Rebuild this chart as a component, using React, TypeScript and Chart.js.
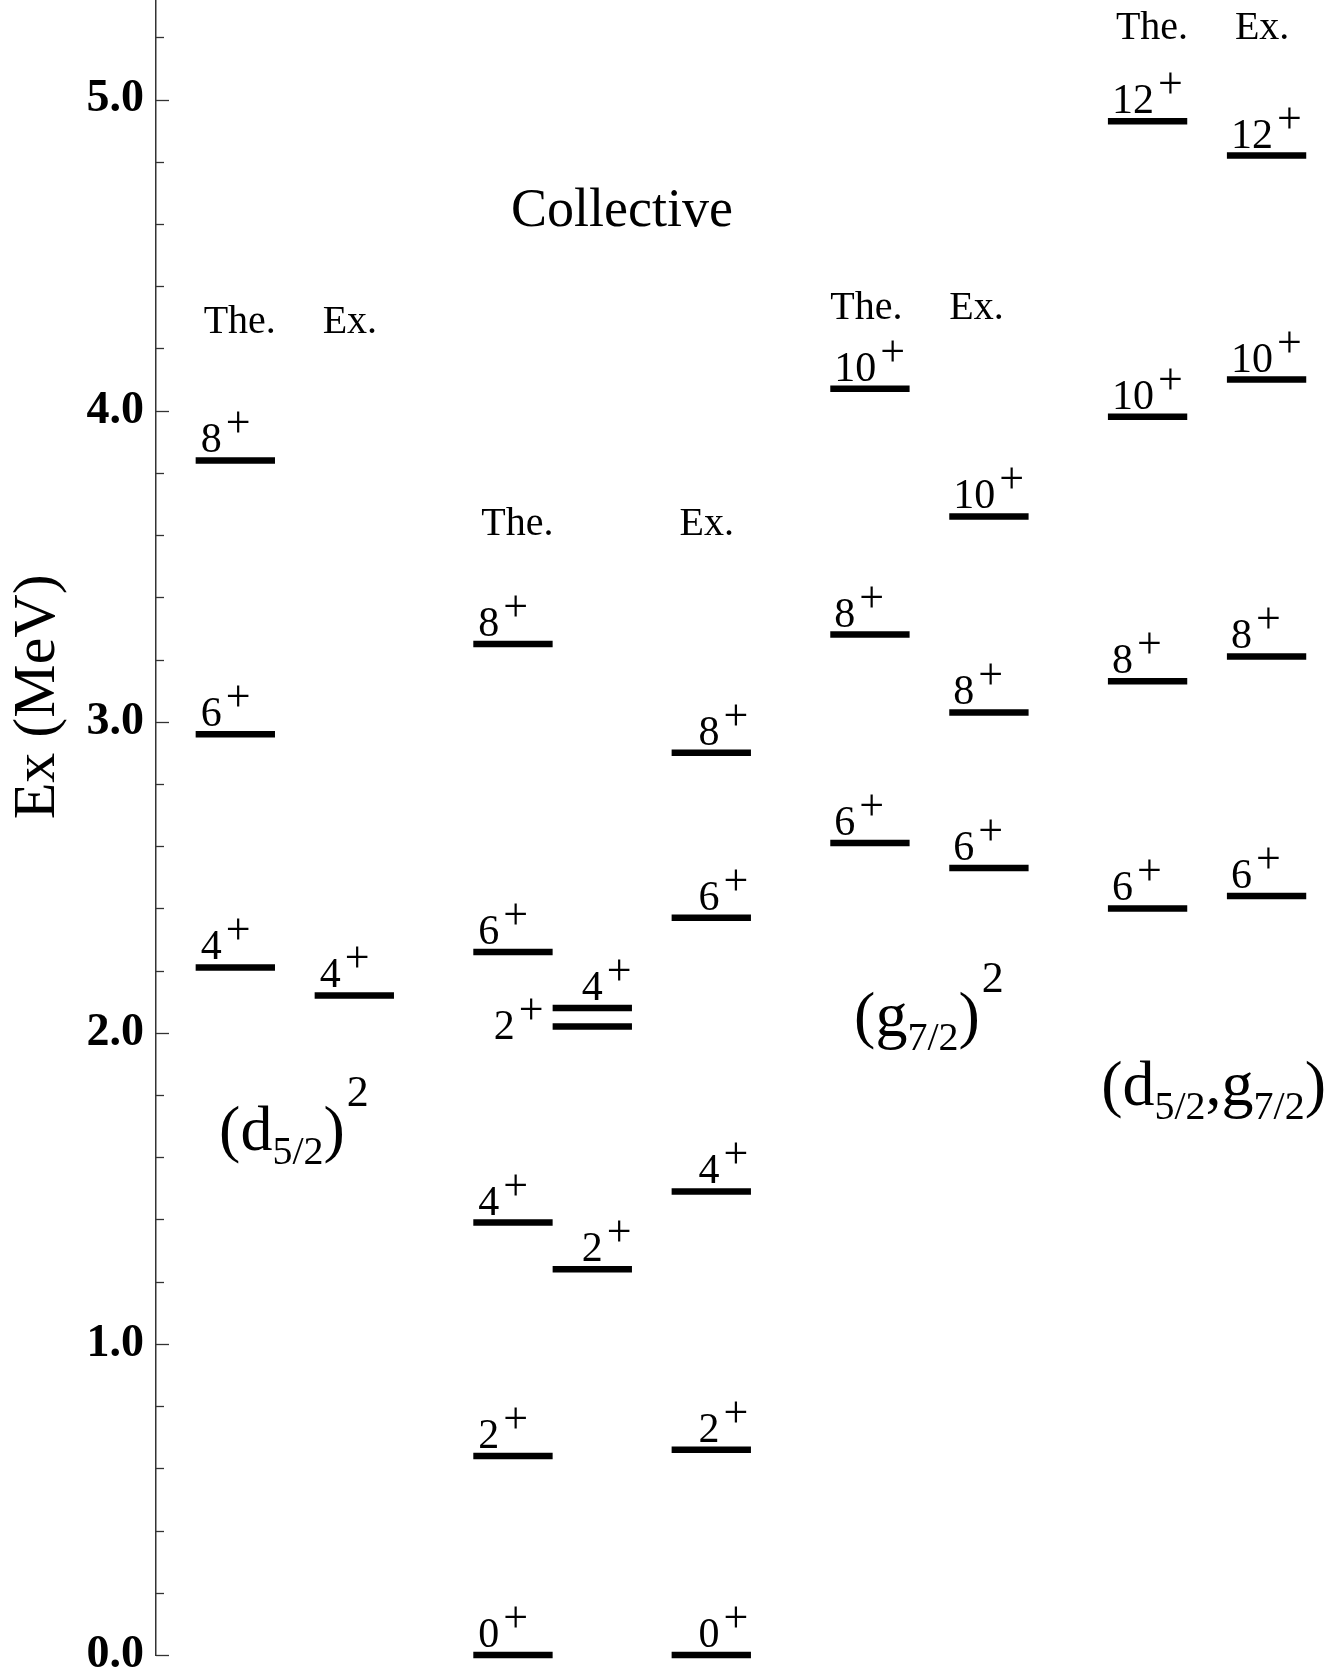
import { useEffect, useRef } from "react";
import { Chart, registerables } from "chart.js";

Chart.register(...registerables);

const SERIF = '"Liberation Serif", "Times New Roman", "DejaVu Serif", serif';

// ---- Level energies (MeV) and spins ----
const d52TheoryEnergy = [2.21, 2.96, 3.84];
const d52TheorySpin = ["4", "6", "8"];
const d52ExpEnergy = [2.12];
const d52ExpSpin = ["4"];

const collTheoryEnergy = [0.0, 0.64, 1.39, 2.26, 3.25];
const collTheorySpin = ["0", "2", "4", "6", "8"];
const collBandEnergy = [1.24, 2.02, 2.08];
const collBandSpin = ["2", "2", "4"];
const collExpEnergy = [0.0, 0.66, 1.49, 2.37, 2.9];
const collExpSpin = ["0", "2", "4", "6", "8"];

const g72TheoryEnergy = [2.61, 3.28, 4.07];
const g72TheorySpin = ["6", "8", "10"];
const g72ExpEnergy = [2.53, 3.03, 3.66];
const g72ExpSpin = ["6", "8", "10"];

const dgTheoryEnergy = [2.4, 3.13, 3.98, 4.93];
const dgTheorySpin = ["6", "8", "10", "12"];
const dgExpEnergy = [2.44, 3.21, 4.1, 4.82];
const dgExpSpin = ["6", "8", "10", "12"];

// y-axis
const yMin = 0;
const yMax = 5.32;
const yMajorStep = 1;
const yMinorStep = 0.2;

// ---- layout (x in column units, label offsets in px) ----
const LEVEL_WIDTH = 2;
type Col = { x: number; energies: number[]; spins: string[]; dx: number; side?: string[] };
const columns: Col[] = [
  { x: 1, energies: d52TheoryEnergy, spins: d52TheorySpin, dx: 5 },
  { x: 4, energies: d52ExpEnergy, spins: d52ExpSpin, dx: 5 },
  { x: 8, energies: collTheoryEnergy, spins: collTheorySpin, dx: 5 },
  { x: 10, energies: collBandEnergy, spins: collBandSpin, dx: 29, side: ["above", "left", "above"] },
  { x: 13, energies: collExpEnergy, spins: collExpSpin, dx: 27 },
  { x: 17, energies: g72TheoryEnergy, spins: g72TheorySpin, dx: 4 },
  { x: 20, energies: g72ExpEnergy, spins: g72ExpSpin, dx: 4 },
  { x: 24, energies: dgTheoryEnergy, spins: dgTheorySpin, dx: 4 },
  { x: 27, energies: dgExpEnergy, spins: dgExpSpin, dx: 4 },
];

const headers = [
  { text: "The.", x: 1, e: 4.248, dx: 8 },
  { text: "Ex.", x: 4, e: 4.248, dx: 8 },
  { text: "The.", x: 8, e: 3.599, dx: 8 },
  { text: "Ex.", x: 13, e: 3.599, dx: 8 },
  { text: "The.", x: 17, e: 4.296, dx: 0 },
  { text: "Ex.", x: 20, e: 4.296, dx: 0 },
  { text: "The.", x: 24, e: 5.196, dx: 8 },
  { text: "Ex.", x: 27, e: 5.196, dx: 8 },
];

type Part = { t: string; k: "main" | "sub" | "sup" };
const groupLabels: { x: number; e: number; parts: Part[] }[] = [
  {
    x: 1.59,
    e: 1.623,
    parts: [
      { t: "(d", k: "main" },
      { t: "5/2", k: "sub" },
      { t: ")", k: "main" },
      { t: "2", k: "sup" },
    ],
  },
  {
    x: 17.6,
    e: 1.989,
    parts: [
      { t: "(g", k: "main" },
      { t: "7/2", k: "sub" },
      { t: ")", k: "main" },
      { t: "2", k: "sup" },
    ],
  },
  {
    x: 23.83,
    e: 1.768,
    parts: [
      { t: "(d", k: "main" },
      { t: "5/2", k: "sub" },
      { t: ",g", k: "main" },
      { t: "7/2", k: "sub" },
      { t: ")", k: "main" },
    ],
  },
];

const overlayPlugin = {
  id: "levelOverlay",
  afterDatasetsDraw(chart: any) {
    const { ctx, scales, chartArea } = chart;
    const x = scales.x;
    const y = scales.y;
    ctx.save();
    ctx.fillStyle = "#000";
    ctx.strokeStyle = "#333";
    ctx.textBaseline = "alphabetic";
    ctx.textAlign = "left";

    // inward ticks on the y axis
    ctx.lineWidth = 1.3;
    const left = chartArea.left;
    for (let i = 0; i * yMinorStep <= yMax + 1e-9; i++) {
      const v = i * yMinorStep;
      const major = Math.abs(v / yMajorStep - Math.round(v / yMajorStep)) < 1e-6;
      const py = Math.round(y.getPixelForValue(v)) + 0.5;
      ctx.beginPath();
      ctx.moveTo(left, py);
      ctx.lineTo(left + (major ? 13 : 8), py);
      ctx.stroke();
    }

    // spin labels
    const GAP = 4;
    for (const col of columns) {
      col.energies.forEach((e, i) => {
        const spin = col.spins[i];
        const xl = x.getPixelForValue(col.x);
        const py = y.getPixelForValue(e);
        ctx.font = `42px ${SERIF}`;
        const w = ctx.measureText(spin).width;
        ctx.font = `44px ${SERIF}`;
        const wp = ctx.measureText("+").width;
        let tx: number;
        let by: number;
        if (col.side && col.side[i] === "left") {
          tx = xl - 9 - (w + GAP + wp);
          by = py + 12;
        } else {
          tx = xl + col.dx;
          by = py - 8;
        }
        ctx.font = `42px ${SERIF}`;
        ctx.fillText(spin, tx, by);
        ctx.font = `44px ${SERIF}`;
        ctx.fillText("+", tx + w + GAP, by - 15);
      });
    }

    // column headers
    ctx.font = `40px ${SERIF}`;
    for (const h of headers) {
      ctx.fillText(h.text, x.getPixelForValue(h.x) + h.dx, y.getPixelForValue(h.e));
    }

    // "Collective"
    ctx.font = `54px ${SERIF}`;
    ctx.textAlign = "center";
    ctx.fillText("Collective", x.getPixelForValue(11.75), y.getPixelForValue(4.595));
    ctx.textAlign = "left";

    // configuration labels
    for (const g of groupLabels) {
      let px = x.getPixelForValue(g.x);
      const base = y.getPixelForValue(g.e);
      for (const p of g.parts) {
        const size = p.k === "main" ? 64 : p.k === "sup" ? 44 : 40;
        const dy = p.k === "sub" ? 14 : p.k === "sup" ? -44 : 0;
        ctx.font = `${size}px ${SERIF}`;
        ctx.fillText(p.t, px, base + dy);
        px += ctx.measureText(p.t).width + (p.k === "main" && p.t === ")" ? 2 : 0);
      }
    }

    // y-axis title
    ctx.save();
    ctx.translate(54, y.getPixelForValue(3.08));
    ctx.rotate(-Math.PI / 2);
    ctx.textAlign = "center";
    ctx.font = `60px ${SERIF}`;
    ctx.fillText("Ex (MeV)", 0, 0);
    ctx.restore();

    ctx.restore();
  },
};

export default function App() {
  const ref = useRef<HTMLCanvasElement | null>(null);

  useEffect(() => {
    if (!ref.current) return;
    const datasets: any[] = [];
    for (const col of columns) {
      for (const e of col.energies) {
        datasets.push({
          data: [
            { x: col.x, y: e },
            { x: col.x + LEVEL_WIDTH, y: e },
          ],
          showLine: true,
          borderColor: "#000",
          backgroundColor: "#000",
          borderWidth: 6.5,
          borderCapStyle: "butt",
          pointRadius: 0,
          pointHoverRadius: 0,
          fill: false,
          clip: false,
        });
      }
    }

    const chart = new Chart(ref.current, {
      type: "scatter",
      data: { datasets },
      options: {
        animation: false,
        responsive: true,
        maintainAspectRatio: false,
        layout: { padding: { left: 0, right: 0, top: 0, bottom: 18 } },
        plugins: { legend: { display: false }, tooltip: { enabled: false } },
        events: [],
        scales: {
          x: { type: "linear", min: 0, max: 29.7, display: false },
          y: {
            type: "linear",
            min: yMin,
            max: yMax,
            afterFit: (scale: any) => {
              scale.width = 156;
              scale.paddingTop = 0;
              scale.paddingBottom = 0;
            },
            grid: { display: true, drawOnChartArea: false, drawTicks: false },
            border: { display: true, color: "#333", width: 1.5 },
            ticks: {
              stepSize: yMajorStep,
              includeBounds: false,
              padding: 12,
              color: "#000",
              font: { family: SERIF, size: 46, weight: "bold" },
              callback: (v: any) => Number(v).toFixed(1),
            },
          },
        },
      },
      plugins: [overlayPlugin],
    } as any);
    return () => chart.destroy();
  }, []);

  return (
    <div style={{ position: "absolute", left: 0, top: 0, width: 1334, height: 1673, background: "#fff" }}>
      <canvas ref={ref} />
    </div>
  );
}
